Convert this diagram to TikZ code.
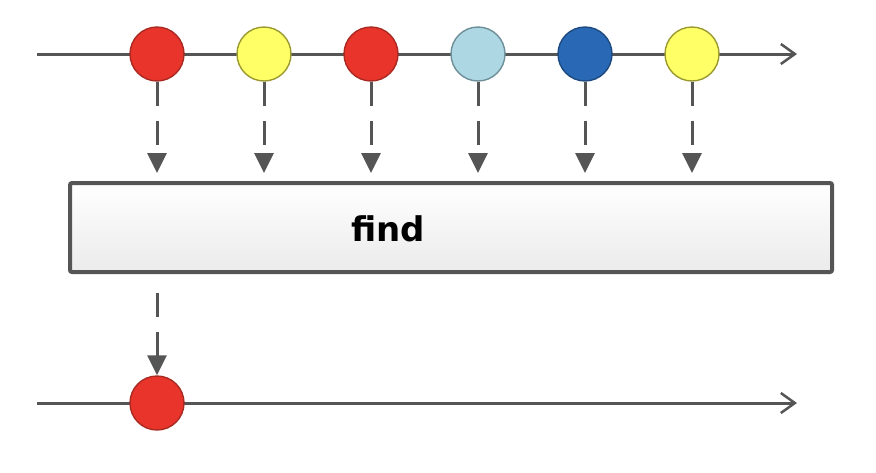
\documentclass[tikz,border=0pt]{standalone}
\usepackage{fontspec}
\newfontfamily\labelfont{DejaVu Sans}
\usetikzlibrary{arrows.meta}
\definecolor{linegray}{HTML}{555555}
\definecolor{mred}{HTML}{E8342A}
\definecolor{mredb}{HTML}{A82A22}
\definecolor{myel}{HTML}{FFFF66}
\definecolor{myelb}{HTML}{9A9A30}
\definecolor{mlblue}{HTML}{ADD8E3}
\definecolor{mlblueb}{HTML}{6E8E98}
\definecolor{mblue}{HTML}{2868B4}
\definecolor{mblueb}{HTML}{1E4A80}
\tikzset{
  timeline/.style={draw=linegray, line width=3pt, -{Straight Barb[length=14pt,width=20pt,line width=2.5pt]}},
  marble/.style={circle, minimum size=54pt, inner sep=0pt, line width=1.4pt},
  feed/.style={draw=linegray, line width=3pt, dash pattern=on 24pt off 15pt, -{Triangle[length=20pt,width=19pt]}},
  opbox/.style={draw=linegray, line width=4pt, rounded corners=2pt, top color=white, bottom color=black!8, minimum width=762pt, minimum height=89pt, inner sep=0pt}
}
\begin{document}
\begin{tikzpicture}[x=1pt,y=-1pt]
\useasboundingbox (0,0) rectangle (876,472);
% top timeline
\coordinate (ts) at (37,54);
\coordinate (te) at (797,54);
\draw[timeline] (ts) -- (te);
\node[marble, fill=mred, draw=mredb] (m1) at (157,54) {};
\node[marble, fill=myel, draw=myelb] (m2) at (264,54) {};
\node[marble, fill=mred, draw=mredb] (m3) at (371,54) {};
\node[marble, fill=mlblue, draw=mlblueb] (m4) at (478,54) {};
\node[marble, fill=mblue, draw=mblueb] (m5) at (585,54) {};
\node[marble, fill=myel, draw=myelb] (m6) at (692,54) {};
% operator box
\node[opbox] (op) at (451,227.5) {};
\node[font=\labelfont\bfseries\fontsize{34}{40}\selectfont] (lbl) at (388,229) {find};
\foreach \i in {1,...,6}{
  \draw[feed, shorten >=8pt] (m\i.south) -- (m\i.south |- op.north);
}
% bottom timeline
\coordinate (bs) at (37,403);
\coordinate (be) at (797,403);
\draw[timeline] (bs) -- (be);
\node[marble, fill=mred, draw=mredb] (r1) at (157,403) {};
\coordinate (fs) at (157,293);
\draw[feed] (fs) -- (r1.north);
\end{tikzpicture}
\end{document}
